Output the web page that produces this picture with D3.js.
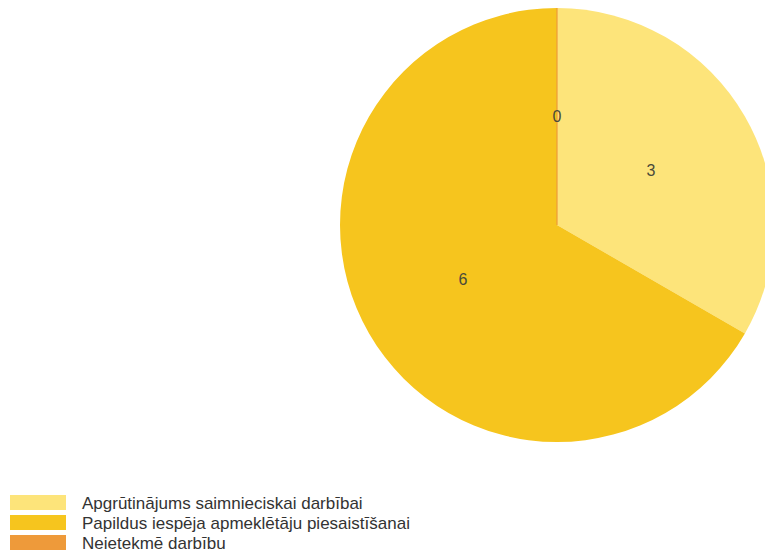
<!DOCTYPE html>
<html><head><meta charset="utf-8">
<script src="https://cdn.jsdelivr.net/npm/d3@7"></script>
<style>body{margin:0;background:#fff;overflow:hidden}svg{display:block;font-family:"Liberation Sans",Arial,sans-serif}</style>
</head><body>
<svg id="c" width="765" height="553"></svg>
<script>
const categories = ["Apgrūtinājums saimnieciskai darbībai", "Papildus iespēja apmeklētāju piesaistīšanai", "Neietekmē darbību"];
const values = [3, 6, 0];
const colors = ["#FDE47A", "#F6C51E", "#EE9A3A"];

const svg = d3.select("#c");
const cx = 557, cy = 225, R = 217;
const data = categories.map((c, i) => ({ c, v: values[i], col: colors[i] }));
const pie = d3.pie().value(d => d.v).sort(null);
const arcs = pie(data);
const arc = d3.arc().innerRadius(0).outerRadius(R);
const labelArc = d3.arc().innerRadius(R * 0.5).outerRadius(R * 0.5);
const g = svg.append("g").attr("transform", `translate(${cx},${cy})`);
g.selectAll("path").data(arcs).enter().append("path")
  .attr("d", arc).attr("fill", d => d.data.col).attr("stroke", "none");
// zero-value slice drawn as a thin line
arcs.filter(a => a.data.v === 0).forEach(a => {
  const ang = a.startAngle;
  g.append("line").attr("x1", 0).attr("y1", 0)
    .attr("x2", R * Math.sin(ang)).attr("y2", -R * Math.cos(ang))
    .attr("stroke", a.data.col).attr("stroke-width", 1.2);
});
g.selectAll("text").data(arcs).enter().append("text")
  .attr("transform", d => `translate(${labelArc.centroid(d)})`)
  .attr("text-anchor", "middle").attr("dy", "0.35em")
  .attr("font-size", 16).attr("fill", "#4a4a3a").text(d => d.data.v);

const lg = svg.append("g");
const ly = d3.scaleBand().domain(categories).range([494, 554]);
categories.forEach((c, i) => {
  lg.append("rect").attr("x", 10).attr("y", ly(c) + 1).attr("width", 56).attr("height", 15).attr("fill", colors[i]);
  lg.append("text").attr("x", 82).attr("y", ly(c) + 9).attr("dy", "0.35em")
    .attr("font-size", 17).attr("fill", "#333").text(c);
});
</script>
</body></html>
